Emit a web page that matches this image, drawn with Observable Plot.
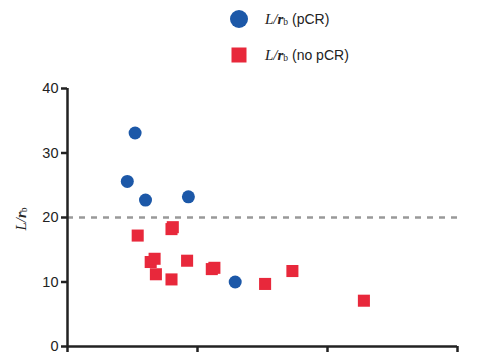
<!DOCTYPE html>
<html><head><meta charset="utf-8">
<script src="https://cdn.jsdelivr.net/npm/d3@7"></script>
<script src="https://cdn.jsdelivr.net/npm/@observablehq/plot@0.6"></script>
<style>
body{margin:0;background:#fff;}
#wrap{position:relative;width:485px;height:360px;overflow:hidden;font-family:"Liberation Sans",Arial,sans-serif;background:#fff;}
#legend{height:75px;position:relative;}
.sym{position:absolute;left:229px;}
.txt{position:absolute;left:265px;font-size:14px;color:#222;white-space:nowrap;line-height:16px;}
.ser{font-family:"Liberation Serif","Times New Roman",serif;font-style:italic;font-size:15px;}
.sub{font-family:"Liberation Serif","Times New Roman",serif;font-size:9.5px;font-style:normal;vertical-align:-1px;}
#ylab{position:absolute;left:21px;top:219px;transform:translate(-50%,-50%) rotate(-90deg);color:#222;white-space:nowrap;}
</style></head>
<body>
<div id="wrap">
  <div id="legend">
    <svg class="sym" style="top:9px" width="20" height="20"><circle cx="10" cy="10" r="9" fill="#1c58a8"/></svg>
    <div class="txt" style="top:11px"><span class="ser">L/<b>r</b></span><span class="sub">b</span> (pCR)</div>
    <svg class="sym" style="top:45px" width="20" height="20"><rect x="2.5" y="2.5" width="15" height="15" fill="#e8283b"/></svg>
    <div class="txt" style="top:47px"><span class="ser">L/<b>r</b></span><span class="sub">b</span> (no pCR)</div>
  </div>
  <div id="chart"></div>
  <div id="ylab"><span class="ser">L/<b>r</b></span><span class="sub">b</span></div>
</div>
<script>
const pcrX = [0.46, 0.52, 0.60, 0.93, 1.29];
const pcrY = [25.6, 33.1, 22.7, 23.2, 10.0];
const noX = [0.54, 0.64, 0.67, 0.68, 0.80, 0.80, 0.81, 0.92, 1.11, 1.13, 1.52, 1.73, 2.28];
const noY = [17.2, 13.1, 13.6, 11.2, 10.4, 18.2, 18.5, 13.3, 12.0, 12.2, 9.7, 11.7, 7.1];
const yTicks = [0, 10, 20, 30, 40];
const xTicks = [0, 1, 2, 3];
const threshold = 20;

const pcr = pcrX.map((x, i) => ({x, y: pcrY[i]}));
const nopcr = noX.map((x, i) => ({x, y: noY[i]}));

const chart = Plot.plot({
  width: 485,
  height: 285,
  marginTop: 13,
  marginBottom: 14,
  marginLeft: 67,
  marginRight: 28,
  style: {fontFamily: "'Liberation Sans', Arial, sans-serif", fontSize: "14px", color: "#222", background: "#fff"},
  x: {domain: [0, 3]},
  y: {domain: [0, 40]},
  marks: [
    Plot.ruleY([threshold], {stroke: "#999", strokeWidth: 2.5, strokeDasharray: "6,6"}),
    Plot.axisY(yTicks, {tickSize: 6, tickPadding: 3, strokeWidth: 2.5, stroke: "#222", fill: "#222", label: null, fontSize: 14.5}),
    Plot.axisX(xTicks, {tickSize: 6, tickFormat: () => "", strokeWidth: 2.5, stroke: "#222", label: null}),
    Plot.ruleX([0], {stroke: "#222", strokeWidth: 2.5}),
    Plot.ruleY([0], {stroke: "#222", strokeWidth: 2.5}),
    Plot.dot(nopcr, {x: "x", y: "y", symbol: "square", r: 6.8, fill: "#e8283b", stroke: "none"}),
    Plot.dot(pcr, {x: "x", y: "y", symbol: "circle", r: 6.5, fill: "#1c58a8", stroke: "none"})
  ]
});
document.getElementById("chart").appendChild(chart);
</script>
</body></html>
